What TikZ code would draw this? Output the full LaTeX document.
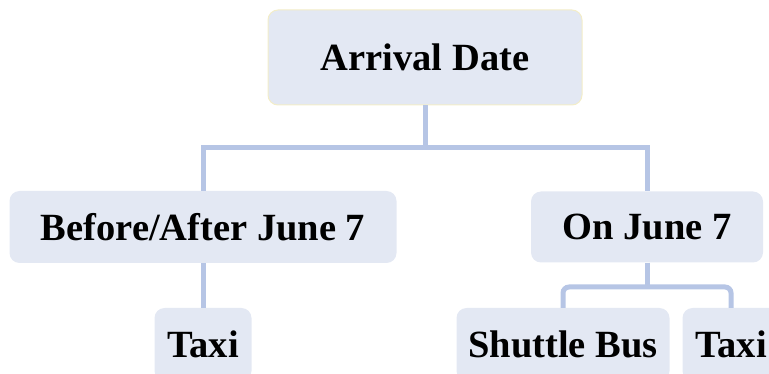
\documentclass[tikz,border=0pt]{standalone}
\usepackage{fontspec}
\setmainfont{Liberation Serif}
\usepackage{tikz}

\definecolor{boxfill}{RGB}{227,232,243}
\definecolor{linkcol}{RGB}{182,197,229}
\definecolor{topedge}{RGB}{243,237,200}

\tikzset{
  box/.style={fill=boxfill, rounded corners=10pt, inner sep=0pt, align=center,
    font=\fontsize{38.5}{40}\selectfont\bfseries},
  link/.style={draw=linkcol, line width=5pt},
  roundlink/.style={link, rounded corners=6pt}
}

\begin{document}
\begin{tikzpicture}[x=1pt,y=-1pt]
\useasboundingbox (0,0) rectangle (769,374);
\clip (0,0) rectangle (769,374);

\path (425,57.5) node[box,draw=topedge,line width=1pt,minimum width=314pt,minimum height=95pt] (arr) {Arrival Date};
\path (203,227) node[box,minimum width=387pt,minimum height=72pt] (ba) {Before/After June 7};
\path (647,227) node[box,minimum width=232pt,minimum height=71pt] (on) {On June 7};
\path (203,344.5) node[box,minimum width=97pt,minimum height=73pt] (taxiA) {Taxi};
\path (563,344.5) node[box,minimum width=213pt,minimum height=73pt] (bus) {Shuttle Bus};
\path (731,344.5) node[box,minimum width=97pt,minimum height=73pt] (taxiB) {Taxi};

\coordinate (j1) at (425,147.5);
\coordinate (j2) at (647,287);

\path[link] (ba) |- (j1) -| (on);
\path[link] (arr) -- (j1);
\path[link] (ba) -- (taxiA);
\path[roundlink] (bus) |- (j2) -| (taxiB);
\path[link] (on) -- (j2);

\end{tikzpicture}
\end{document}
